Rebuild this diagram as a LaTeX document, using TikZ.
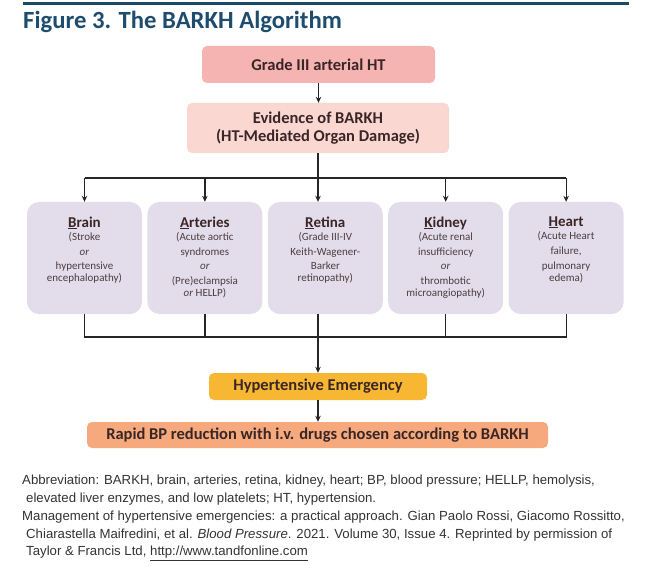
\documentclass[tikz,border=0pt]{standalone}
\usepackage{fontspec}
\setmainfont{Carlito}
\newfontfamily\notefont{Liberation Sans}
\usetikzlibrary{positioning,arrows.meta}

\definecolor{rulecol}{HTML}{1B4A66}
\definecolor{titlecol}{HTML}{1E4C6E}
\definecolor{gradefill}{HTML}{F5B3B2}
\definecolor{evidfill}{HTML}{FBD7D2}
\definecolor{organfill}{HTML}{E3DCEA}
\definecolor{emergfill}{HTML}{F7B732}
\definecolor{rapidfill}{HTML}{F5A97C}
\definecolor{boxtext}{HTML}{3A2626}
\definecolor{desctext}{HTML}{4A3F40}
\definecolor{notetext}{HTML}{333333}

\newcommand{\organlabel}[2]{%
    \parbox[c][97pt][t]{112pt}{\centering\vspace*{7pt}
        {\fontsize{15}{17}\selectfont\bfseries\color{boxtext}#1}\\[-1pt]
        {\fontsize{11}{14.6}\selectfont\color{desctext}#2}}}

\begin{document}
\begin{tikzpicture}[
        x=1pt, y=-1pt,
        box/.style={fill, rounded corners=5pt, align=center, inner sep=0pt,
            text=boxtext, font=\fontsize{16.5}{18}\selectfont\bfseries},
        gradebox/.style={box, fill=gradefill, minimum width=233pt, minimum height=37pt},
        evidbox/.style={box, fill=evidfill, minimum width=262pt, minimum height=50pt},
        organ/.style={fill=organfill, rounded corners=12pt, inner xsep=1.5pt, inner ysep=7.5pt,
            minimum width=115pt, minimum height=112pt},
        emergbox/.style={box, fill=emergfill, minimum width=218pt, minimum height=27pt},
        rapidbox/.style={box, fill=rapidfill, minimum width=461pt, minimum height=26pt},
        conn/.style={line width=1.2pt, draw=black!85},
        arr/.style={conn, -{Stealth[length=6pt,width=5.5pt]}}
    ]
        \useasboundingbox (0,0) rectangle (647,585);

% --- Heading ---
        \draw[rulecol, line width=3pt] (23,3.5) -- (629,3.5);
        \node[anchor=base west, inner sep=0pt, text=titlecol, font=\fontsize{24.7}{28}\selectfont\bfseries]
            (title) at (23,29) {Figure 3. The BARKH Algorithm};

% --- Top of the flow ---
        \node[gradebox] (grade) at (318.5,64.5) {Grade III arterial HT};
        \node[evidbox] (evid) at (318,128) {Evidence of BARKH\\(HT-Mediated Organ Damage)};
        \draw[arr] (grade) -- (grade.south |- evid.north);

% --- Organ boxes ---
        \node[organ] (brain) at (84.5,258)
            {\organlabel{\underline{B}rain}{(Stroke\\\textit{or}\\hypertensive\\encephalopathy)}};
        \node[organ, right=5pt of brain] (arteries)
            {\organlabel{\underline{A}rteries}{(Acute aortic\\syndromes\\\textit{or}\\(Pre)eclampsia\\\textit{or} HELLP)}};
        \node[organ, right=5pt of arteries] (retina)
            {\organlabel{\underline{R}etina}{(Grade III-IV\\Keith-Wagener-\\Barker\\retinopathy)}};
        \node[organ, right=5pt of retina] (kidney)
            {\organlabel{\underline{K}idney}{(Acute renal\\insufficiency\\\textit{or}\\thrombotic\\microangiopathy)}};
        \node[organ, right=5pt of kidney] (heart)
            {\organlabel{\underline{H}eart}{(Acute Heart\\failure,\\pulmonary\\edema)}};

% --- Split to the organs ---
        \coordinate (split) at (318,178);
        \draw[conn] (evid) -- (split);
        \draw[conn] (brain.north |- split) -- (heart.north |- split);
        \draw[arr] (brain.north |- split) -- (brain);
        \draw[arr] (arteries.north |- split) -- (arteries);
        \draw[arr] (split) -- (split |- retina.north);
        \draw[arr] (kidney.north |- split) -- (kidney);
        \draw[arr] (heart.north |- split) -- (heart);

% --- Join below the organs ---
        \coordinate (join) at (318,337);
        \draw[conn] (brain) -- (brain.south |- join) -- (heart.south |- join) -- (heart);
        \draw[conn] (arteries) -- (arteries.south |- join);
        \draw[conn] (retina.south -| join) -- (join);
        \draw[conn] (kidney) -- (kidney.south |- join);

% --- Emergency and treatment ---
        \node[emergbox] (emerg) at (318,386.5) {Hypertensive Emergency};
        \node[rapidbox] (rapid) at (317.5,435) {Rapid BP reduction with i.v. drugs chosen according to BARKH};
        \draw[arr] (join) -- (emerg);
        \draw[arr] (emerg) -- (emerg.south |- rapid.north);

% --- Notes ---
        \node[anchor=north west, inner sep=0pt, align=left, text=notetext,
            font=\notefont\fontsize{13.2}{17.8}\selectfont] (notes) at (22,475)
            {Abbreviation: BARKH, brain, arteries, retina, kidney, heart; BP, blood pressure; HELLP, hemolysis,\\
            \hspace*{4pt}elevated liver enzymes, and low platelets; HT, hypertension.\\
            Management of hypertensive emergencies: a practical approach. Gian Paolo Rossi, Giacomo Rossitto,\\
            \hspace*{4pt}Chiarastella Maifredini, et al. \textit{Blood Pressure}. 2021. Volume 30, Issue 4. Reprinted by permission of\\
            \hspace*{4pt}Taylor \& Francis Ltd, \underline{http://www.tandfonline.com}};

    \end{tikzpicture}
\end{document}
